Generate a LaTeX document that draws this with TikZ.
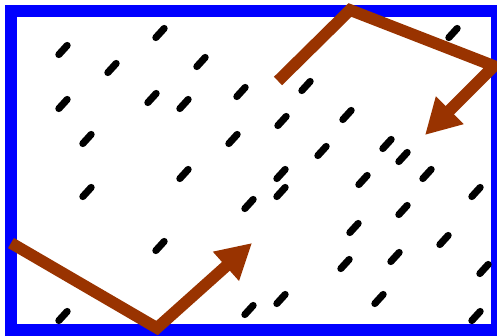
\documentclass[tikz,border=0pt]{standalone}
\usetikzlibrary{arrows.meta}
\definecolor{rust}{HTML}{993300}
\begin{document}
\begin{tikzpicture}[x=0.3mm,y=-0.3mm,
  fr/.style={draw=blue,line width=10.5pt},
  ds/.style={line width=6pt,line cap=round},
  ar/.style={draw=rust,line width=10pt,-{Triangle[length=10.5mm,width=11mm]}}]
  \clip (0,0) rectangle (497,335);
  \draw[fr] (11,11) rectangle (497,330);
  % short marks
  \foreach \x/\y in {63/50,160/33,112/68,201/62,241/92,63/104,152/98,184/104,
    87/139,233/139,184/174,453/33,306/86,282/121,347/115,322/151,387/144,
    403/157,87/192,249/204,160/246,209/281,63/316,249/310,281/174,281/192,
    363/180,427/174,476/192,403/210,354/228,444/240,395/257,345/264,484/269,
    281/299,379/299,476/316}
    \draw[ds] (\x,\y) ++(-4.2,4.6) -- ++(8.4,-9.2);
  % arrows
  \coordinate (a0) at (11,243);
  \coordinate (a1) at (157,328);
  \coordinate (a2) at (252,243);
  \coordinate (b0) at (278,81);
  \coordinate (b1) at (350,10);
  \coordinate (b2) at (494,66);
  \coordinate (b3) at (425,135);
  \draw[ar] (a0) -- (a1) -- (a2);
  \draw[ar] (b0) -- (b1) -- (b2) -- (b3);
\end{tikzpicture}
\end{document}
